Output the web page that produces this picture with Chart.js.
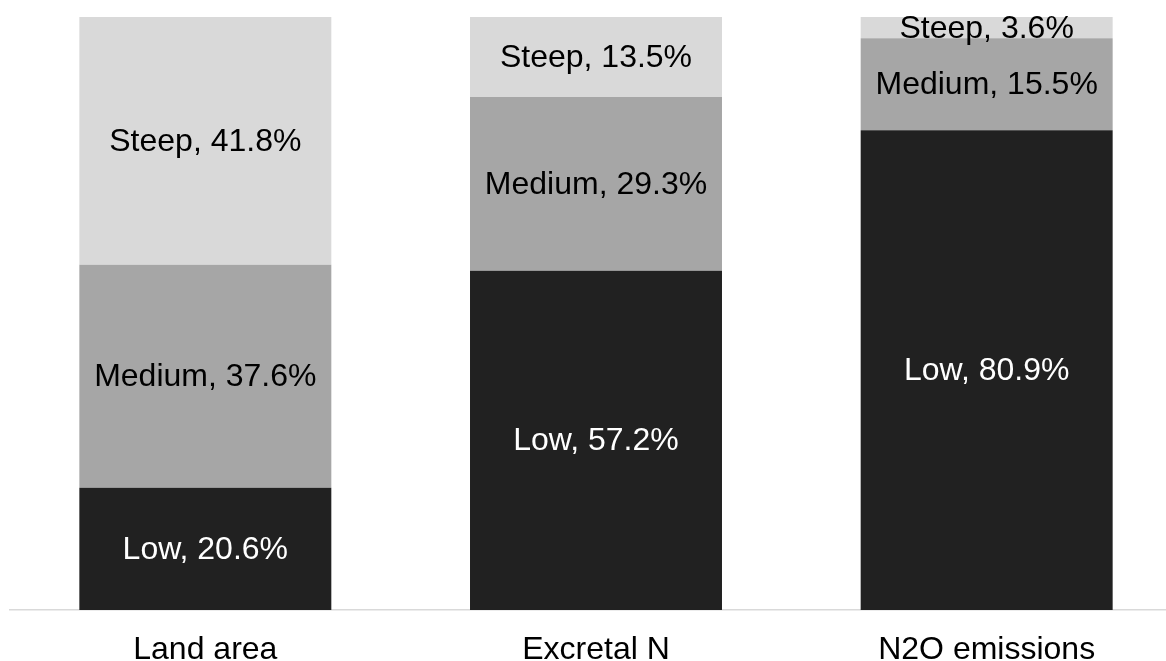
<!DOCTYPE html>
<html>
<head>
<meta charset="utf-8">
<script src="https://cdn.jsdelivr.net/npm/chart.js@4/dist/chart.umd.min.js"></script>
<style>
  html, body { margin: 0; padding: 0; background: #ffffff; overflow: hidden; }
  #wrap { width: 1182px; height: 661px; position: relative; }
</style>
</head>
<body>
<div id="wrap"><canvas id="chart"></canvas></div>
<script>
// Share of land area, excretal N and N2O emissions by slope class (%)
const categories = ['Land area', 'Excretal N', 'N2O emissions'];
const lowSlope = [20.6, 57.2, 80.9];
const mediumSlope = [37.6, 29.3, 15.5];
const steepSlope = [41.8, 13.5, 3.6];

const FONT = '"Liberation Sans", Arial, sans-serif';

// Writes "Class, value%" in the middle of each stacked segment
const segmentLabels = {
  id: 'segmentLabels',
  afterDatasetsDraw(chart) {
    const ctx = chart.ctx;
    ctx.save();
    ctx.font = '32px ' + FONT;
    ctx.textAlign = 'center';
    ctx.textBaseline = 'middle';
    chart.data.datasets.forEach((ds, di) => {
      const meta = chart.getDatasetMeta(di);
      meta.data.forEach((bar, i) => {
        const v = ds.data[i];
        const yMid = (bar.y + bar.base) / 2;
        ctx.fillStyle = ds.labelColor;
        ctx.fillText(ds.label + ', ' + v.toFixed(1) + '%', bar.x, yMid + 1);
      });
    });
    ctx.restore();
  }
};

new Chart(document.getElementById('chart'), {
  type: 'bar',
  data: {
    labels: categories,
    datasets: [
      { label: 'Low', data: lowSlope, backgroundColor: '#212121', labelColor: '#ffffff' },
      { label: 'Medium', data: mediumSlope, backgroundColor: '#a6a6a6', labelColor: '#000000' },
      { label: 'Steep', data: steepSlope, backgroundColor: '#d9d9d9', labelColor: '#000000' }
    ]
  },
  options: {
    responsive: true,
    maintainAspectRatio: false,
    animation: false,
    layout: { padding: { left: 10, top: 17, right: 0, bottom: 0 } },
    datasets: { bar: { categoryPercentage: 1, barPercentage: 0.645, borderWidth: 0 } },
    plugins: { legend: { display: false }, tooltip: { enabled: false } },
    scales: {
      x: {
        stacked: true,
        afterFit(scale) { scale.height = 51; },
        grid: { display: false, drawTicks: false },
        border: { display: true, color: '#d9d9d9', width: 1.5 },
        ticks: { color: '#000000', font: { family: FONT, size: 32 }, padding: 21, maxRotation: 0 }
      },
      y: {
        stacked: true,
        min: 0,
        max: 100,
        display: false
      }
    }
  },
  plugins: [segmentLabels]
});
</script>
</body>
</html>
